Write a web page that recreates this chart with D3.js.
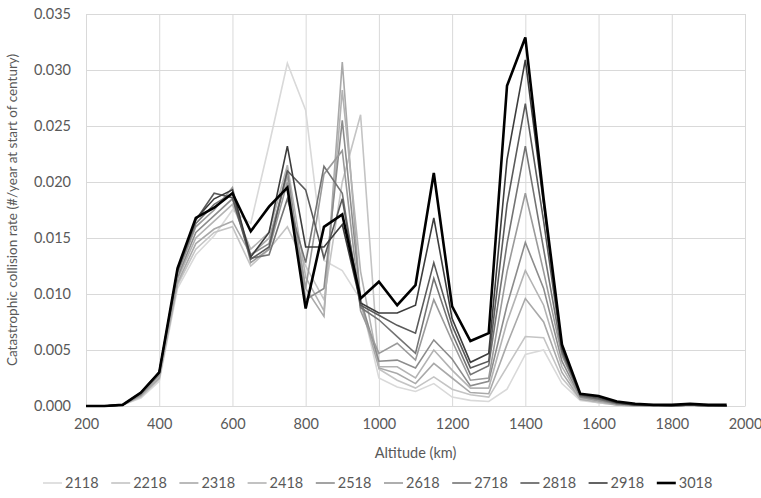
<!DOCTYPE html>
<html><head><meta charset="utf-8">
<script src="https://cdn.jsdelivr.net/npm/d3@7"></script>
<style>body{margin:0;background:#fff}svg{display:block}text{font-family:Lato,"Liberation Sans",sans-serif;fill:#595959}</style>
</head><body><svg id="c" width="761" height="498"></svg>
<script>
const altitudes = [200,250,300,350,400,450,500,550,600,650,700,750,800,850,900,950,1000,1050,1100,1150,1200,1250,1300,1350,1400,1450,1500,1550,1600,1650,1700,1750,1800,1850,1900,1950];
const xTicks = [200,400,600,800,1000,1200,1400,1600,1800,2000];
const yTicks = [0,0.005,0.010,0.015,0.020,0.025,0.030,0.035];
const seriesNames = ["2118","2218","2318","2418","2518","2618","2718","2818","2918","3018"];
const seriesColors = ["#d9d9d9","#c4c4c4","#a9a9a9","#b3b3b3","#8c8c8c","#9a9a9a","#737373","#5a5a5a","#3c3c3c","#000000"];
const s2118 = [0,0,0.0001,0.0007,0.0022,0.0105,0.0135,0.0152,0.0175,0.0163,0.0233,0.0306,0.0264,0.0130,0.0121,0.0095,0.0025,0.0017,0.0013,0.0020,0.0008,0.0005,0.0004,0.0015,0.0046,0.0050,0.0020,0.0005,0.0003,0.0001,0,0,0,0,0,0];
const s2218 = [0,0,0.0001,0.0008,0.0024,0.0108,0.0140,0.0155,0.0160,0.0125,0.0140,0.0160,0.0125,0.0095,0.0200,0.0260,0.0033,0.0023,0.0016,0.0026,0.0015,0.0010,0.0008,0.0035,0.0062,0.0061,0.0025,0.0006,0.0003,0.0001,0,0,0,0,0,0];
const s2318 = [0,0,0.0001,0.0009,0.0025,0.0110,0.0145,0.0158,0.0165,0.0135,0.0150,0.0205,0.0105,0.0080,0.0307,0.0092,0.0034,0.0029,0.0020,0.0038,0.0025,0.0012,0.0011,0.0055,0.0096,0.0075,0.0030,0.0006,0.0004,0.0001,0,0,0,0.0001,0,0];
const s2418 = [0,0,0.0001,0.0010,0.0027,0.0113,0.0150,0.0165,0.0180,0.0140,0.0155,0.0215,0.0115,0.0085,0.0282,0.0120,0.0035,0.0035,0.0025,0.0050,0.0032,0.0016,0.0016,0.0075,0.0121,0.0090,0.0035,0.0007,0.0004,0.0002,0.0001,0,0,0.0001,0,0];
const s2518 = [0,0,0.0001,0.0010,0.0028,0.0115,0.0155,0.0170,0.0185,0.0135,0.0145,0.0210,0.0095,0.0105,0.0255,0.0095,0.0040,0.0041,0.0034,0.0059,0.0042,0.0018,0.0022,0.0090,0.0146,0.0105,0.0040,0.0008,0.0005,0.0002,0.0001,0,0,0.0001,0,0];
const s2618 = [0,0,0.0001,0.0011,0.0029,0.0118,0.0160,0.0175,0.0195,0.0128,0.0140,0.0200,0.0105,0.0207,0.0228,0.0085,0.0047,0.0056,0.0041,0.0095,0.0058,0.0023,0.0025,0.0120,0.0190,0.0120,0.0045,0.0009,0.0005,0.0002,0.0001,0,0,0.0001,0,0];
const s2718 = [0,0,0.0001,0.0011,0.0030,0.0120,0.0163,0.0180,0.0190,0.0132,0.0135,0.0185,0.0128,0.0214,0.0190,0.0088,0.0077,0.0062,0.0047,0.0114,0.0065,0.0028,0.0036,0.0145,0.0232,0.0140,0.0048,0.0009,0.0006,0.0002,0.0001,0.0001,0,0.0001,0,0];
const s2818 = [0,0,0.0001,0.0012,0.0030,0.0121,0.0166,0.0190,0.0186,0.0131,0.0142,0.0210,0.0193,0.0132,0.0185,0.0090,0.0081,0.0072,0.0065,0.0128,0.0072,0.0034,0.0040,0.0180,0.0270,0.0165,0.0050,0.0010,0.0007,0.0003,0.0001,0.0001,0,0.0001,0,0];
const s2918 = [0,0,0.0001,0.0012,0.0030,0.0122,0.0167,0.0185,0.0193,0.0133,0.0155,0.0232,0.0142,0.0142,0.0162,0.0092,0.0083,0.0083,0.0090,0.0168,0.0078,0.0039,0.0047,0.0220,0.0309,0.0180,0.0052,0.0010,0.0008,0.0003,0.0001,0.0001,0.0001,0.0001,0.0001,0];
const s3018 = [0,0,0.0001,0.0012,0.0030,0.0123,0.0168,0.0177,0.0190,0.0156,0.0178,0.0195,0.0087,0.0160,0.0171,0.0096,0.0111,0.0090,0.0108,0.0208,0.0089,0.0058,0.0065,0.0286,0.0329,0.0185,0.0055,0.0011,0.0009,0.0004,0.0002,0.0001,0.0001,0.0002,0.0001,0.0001];
const seriesValues = [s2118,s2218,s2318,s2418,s2518,s2618,s2718,s2818,s2918,s3018];

const svg = d3.select("#c");
const L = 86, R = 745, T = 14, B = 406;
const x = d3.scaleLinear().domain([200,2000]).range([L,R]);
const y = d3.scaleLinear().domain([0,0.035]).range([B,T]);

// gridlines
svg.append("g").attr("transform",`translate(0,${B})`)
  .call(d3.axisBottom(x).tickValues(xTicks).tickSize(-(B-T)).tickFormat(""))
  .call(g=>{g.select(".domain").remove();g.selectAll("line").attr("stroke","#d9d9d9").attr("stroke-width",1);});
svg.append("g").attr("transform",`translate(${L},0)`)
  .call(d3.axisLeft(y).tickValues(yTicks).tickSize(-(R-L)).tickFormat(""))
  .call(g=>{g.select(".domain").remove();g.selectAll("line").attr("stroke","#d9d9d9").attr("stroke-width",1);});

// tick labels
svg.append("g").attr("transform",`translate(0,${B})`)
  .call(d3.axisBottom(x).tickValues(xTicks).tickSize(0).tickPadding(13).tickFormat(d3.format("d")))
  .call(g=>{g.select(".domain").attr("stroke","#d9d9d9");g.selectAll("text").style("font-size","14.5px").attr("fill","#595959");});
svg.append("g").attr("transform",`translate(${L},0)`)
  .call(d3.axisLeft(y).tickValues(yTicks).tickSize(0).tickPadding(15).tickFormat(d3.format(".3f")))
  .call(g=>{g.select(".domain").remove();g.selectAll("text").style("font-size","14.5px").attr("fill","#595959");});

// lines
const line = d3.line().x((d,i)=>x(altitudes[i])).y(d=>y(d));
seriesValues.forEach((vals,k)=>{
  svg.append("path").datum(vals).attr("d",line).attr("fill","none")
    .attr("stroke",seriesColors[k]).attr("stroke-width",k===9?2.6:1.6)
    .attr("stroke-linejoin","miter");
});

// axis titles
svg.append("text").attr("x",(L+R)/2).attr("y",458).attr("text-anchor","middle")
  .style("font-size","14.5px").text("Altitude (km)");
svg.append("text").attr("transform",`translate(17,${(T+B)/2}) rotate(-90)`).attr("text-anchor","middle")
  .style("font-size","13.5px").text("Catastrophic collision rate (#/year at start of century)");

// legend
const lg = svg.append("g").attr("transform","translate(43,483)");
seriesNames.forEach((n,k)=>{
  const g = lg.append("g").attr("transform",`translate(${k*68.2},0)`);
  g.append("line").attr("x1",0).attr("x2",19).attr("y1",0).attr("y2",0)
    .attr("stroke",seriesColors[k]).attr("stroke-width",k===9?2.6:1.6);
  g.append("text").attr("x",22).attr("y",5).style("font-size","14.5px").text(n);
});
</script></body></html>
